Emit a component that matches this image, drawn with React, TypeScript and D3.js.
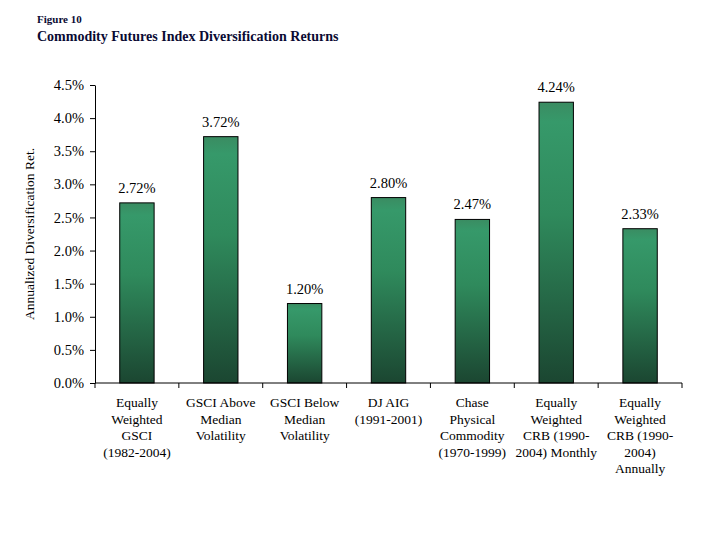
import * as d3 from 'd3';
import React, { useEffect, useRef } from 'react';

const categories = [
  'Equally|Weighted|GSCI|(1982-2004)',
  'GSCI Above|Median|Volatility',
  'GSCI Below|Median|Volatility',
  'DJ AIG|(1991-2001)',
  'Chase|Physical|Commodity|(1970-1999)',
  'Equally|Weighted|CRB (1990-|2004) Monthly',
  'Equally|Weighted|CRB (1990-|2004)|Annually',
];
const values = [2.72, 3.72, 1.2, 2.8, 2.47, 4.24, 2.33];
const yTicks = [0, 0.5, 1, 1.5, 2, 2.5, 3, 3.5, 4, 4.5];

const font = "'Times New Roman', 'Liberation Serif', Times, serif";

const App = () => {
  const svgRef = useRef(null);

  useEffect(() => {
    const svg = d3.select(svgRef.current);
    svg.selectAll('*').remove();

    const left = 95;
    const right = 682;
    const top = 85;
    const bottom = 383;

    const xScale = d3
      .scaleBand()
      .domain(categories)
      .range([left, right])
      .paddingInner(0.59)
      .paddingOuter(0.295);
    const yScale = d3.scaleLinear().domain([0, 4.5]).range([bottom, top]);

    const defs = svg.append('defs');
    const grad = defs
      .append('linearGradient')
      .attr('id', 'barGrad')
      .attr('x1', 0)
      .attr('y1', 0)
      .attr('x2', 0)
      .attr('y2', 1);
    grad.append('stop').attr('offset', '0').attr('stop-color', '#3a8c62');
    grad.append('stop').attr('offset', '0.07').attr('stop-color', '#36996a');
    grad.append('stop').attr('offset', '0.4').attr('stop-color', '#2f8a5c');
    grad.append('stop').attr('offset', '1').attr('stop-color', '#1b4631');

    // titles
    svg
      .append('text')
      .attr('x', 37)
      .attr('y', 23)
      .style('font-family', font)
      .style('font-weight', 'bold')
      .style('font-size', '11px')
      .attr('fill', '#0a0a33')
      .text('Figure 10');
    svg
      .append('text')
      .attr('x', 37)
      .attr('y', 41)
      .style('font-family', font)
      .style('font-weight', 'bold')
      .style('font-size', '14px')
      .attr('fill', '#0a0a33')
      .text('Commodity Futures Index Diversification Returns');

    // bars
    svg
      .append('g')
      .selectAll('rect')
      .data(values)
      .enter()
      .append('rect')
      .attr('x', (d, i) => xScale(categories[i]))
      .attr('y', (d) => yScale(d))
      .attr('width', xScale.bandwidth())
      .attr('height', (d) => bottom - yScale(d))
      .attr('fill', 'url(#barGrad)')
      .attr('stroke', '#000')
      .attr('stroke-width', 1);

    // value labels
    svg
      .append('g')
      .selectAll('text')
      .data(values)
      .enter()
      .append('text')
      .attr('x', (d, i) => xScale(categories[i]) + xScale.bandwidth() / 2)
      .attr('y', (d) => yScale(d) - 10)
      .attr('text-anchor', 'middle')
      .style('font-family', font)
      .style('font-size', '14.5px')
      .attr('fill', '#000')
      .text((d) => d.toFixed(2) + '%');

    // y axis
    const yAxis = svg
      .append('g')
      .attr('transform', `translate(${left},0)`)
      .call(
        d3
          .axisLeft(yScale)
          .tickValues(yTicks)
          .tickSize(5)
          .tickSizeOuter(0)
          .tickPadding(6)
          .tickFormat((d) => (d as number).toFixed(1) + '%')
      );
    yAxis
      .selectAll('text')
      .style('font-family', font)
      .style('font-size', '14.5px')
      .attr('fill', '#000');
    yAxis.selectAll('line, path').attr('stroke', '#000');

    // x axis with ticks at category boundaries
    const xAxis = svg.append('g');
    xAxis
      .append('line')
      .attr('x1', left)
      .attr('x2', right)
      .attr('y1', bottom)
      .attr('y2', bottom)
      .attr('stroke', '#000');
    const step = xScale.step();
    const bounds = d3.range(categories.length + 1).map((i) => left + i * step);
    xAxis
      .selectAll('line.tick')
      .data(bounds)
      .enter()
      .append('line')
      .attr('class', 'tick')
      .attr('x1', (d) => d)
      .attr('x2', (d) => d)
      .attr('y1', bottom)
      .attr('y2', bottom + 5)
      .attr('stroke', '#000');

    const labels = xAxis
      .selectAll('text')
      .data(categories)
      .enter()
      .append('text')
      .attr('x', (d) => xScale(d) + xScale.bandwidth() / 2)
      .attr('y', bottom + 24)
      .attr('text-anchor', 'middle')
      .style('font-family', font)
      .style('font-size', '13.5px')
      .attr('fill', '#000');
    labels
      .selectAll('tspan')
      .data((d) => d.split('|'))
      .enter()
      .append('tspan')
      .attr('x', function () {
        return (this.parentNode as SVGTextElement).getAttribute('x');
      })
      .attr('dy', (d, i) => (i === 0 ? 0 : 16.5))
      .text((d) => d);

    // y axis title
    svg
      .append('text')
      .attr('transform', `translate(34,${(top + bottom) / 2 + 0}) rotate(-90)`)
      .attr('text-anchor', 'middle')
      .style('font-family', font)
      .style('font-size', '13.5px')
      .attr('fill', '#000')
      .text('Annualized Diversification Ret.');
  }, []);

  return (
    <svg
      ref={svgRef}
      width={720}
      height={540}
      style={{ position: 'absolute', left: 0, top: 0, background: '#fff' }}
    />
  );
};

export default App;
